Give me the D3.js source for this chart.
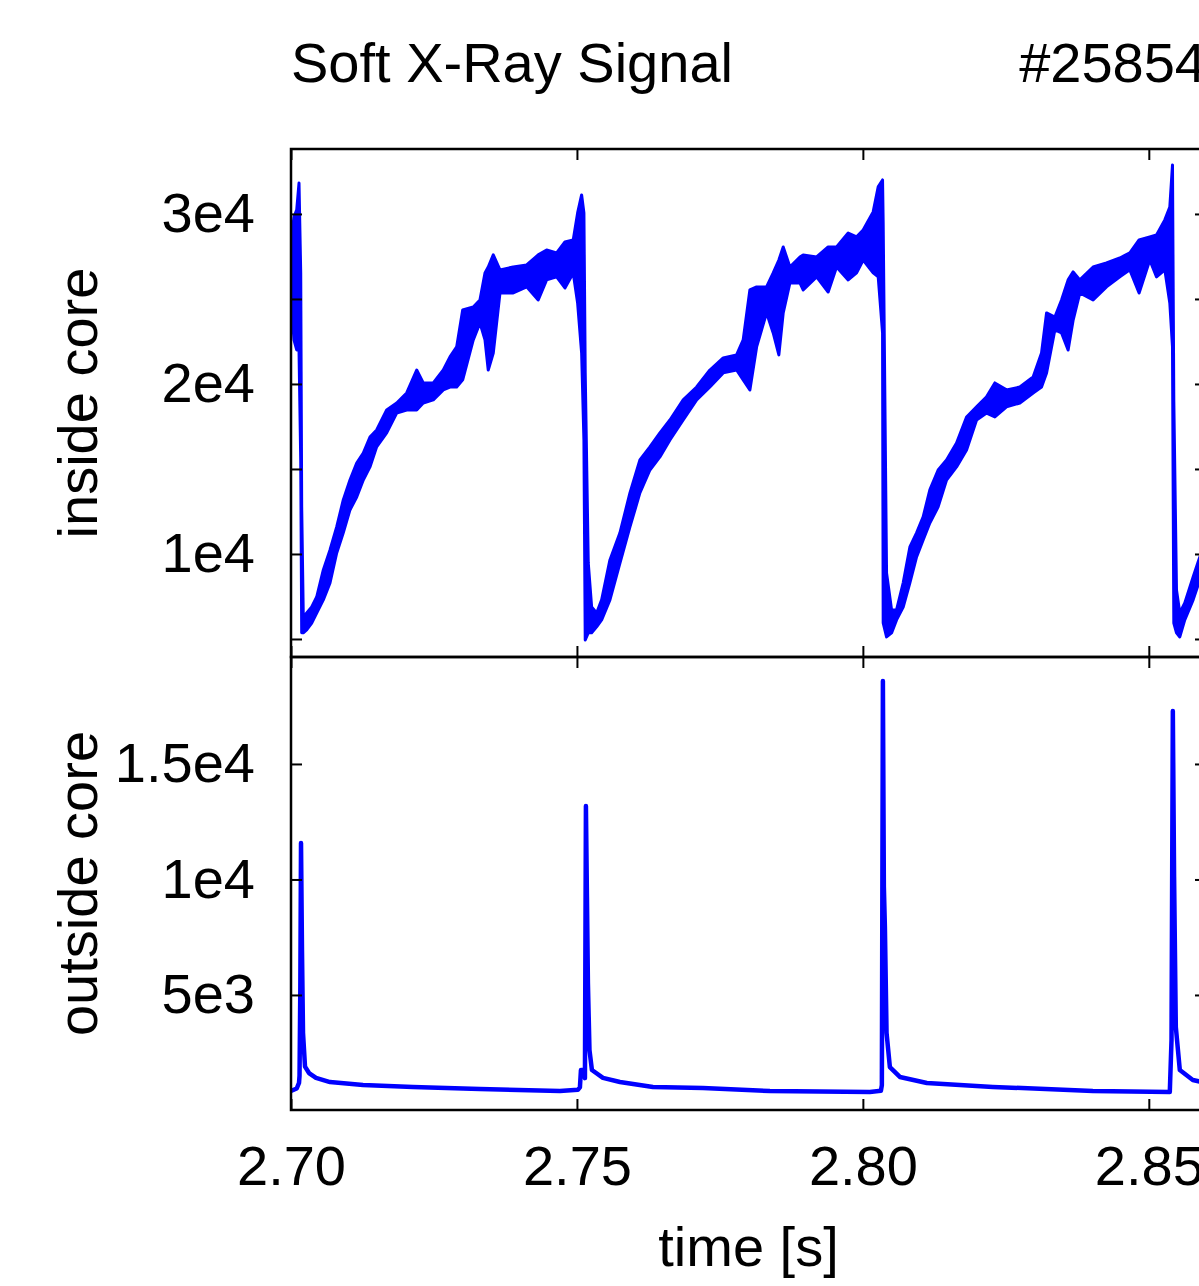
<!DOCTYPE html>
<html>
<head>
<meta charset="utf-8">
<title>Soft X-Ray Signal #25854</title>
<script src="https://cdn.jsdelivr.net/npm/d3@7"></script>
<style>
	body { margin: 0; background: #fff; }
	svg text { font-family: "Liberation Sans", Arial, Helvetica, sans-serif; font-size: 56px; fill: #000; }
</style>
</head>
<body>
<svg id="chart" width="1199" height="1286"></svg>
<script>
// tick values and labels
var timeTicks = [2.70, 2.75, 2.80, 2.85];
var timeLabels = ["2.70", "2.75", "2.80", "2.85"];
var insideTicks = [5000, 10000, 15000, 20000, 25000, 30000];
var insideLabels = ["", "1e4", "", "2e4", "", "3e4"];
var outsideTicks = [5000, 10000, 15000];
var outsideLabels = ["5e3", "1e4", "1.5e4"];

// inside core channel: time [s] with lower / upper edge of the noisy trace
var insideTime = [2.70000, 2.70052, 2.70100, 2.70140, 2.70170, 2.70187, 2.70215, 2.70274, 2.70362, 2.70449,
	2.70565, 2.70682, 2.70799, 2.70914, 2.71031, 2.71149, 2.71264, 2.71381, 2.71498, 2.71673,
	2.71848, 2.72023, 2.72198, 2.72313, 2.72488, 2.72663, 2.72780, 2.72897, 2.73002, 2.73187,
	2.73304, 2.73392, 2.73449, 2.73537, 2.73654, 2.73886, 2.74121, 2.74323, 2.74470, 2.74645,
	2.74790, 2.74935, 2.75012, 2.75082, 2.75122, 2.75145, 2.75198, 2.75257, 2.75344, 2.75432,
	2.75577, 2.75752, 2.75927, 2.76101, 2.76276, 2.76451, 2.76626, 2.76858, 2.77093, 2.77325,
	2.77558, 2.77792, 2.77907, 2.78024, 2.78142, 2.78316, 2.78432, 2.78531, 2.78607, 2.78724,
	2.78899, 2.78956, 2.79191, 2.79393, 2.79540, 2.79743, 2.79890, 2.80005, 2.80180, 2.80268,
	2.80344, 2.80355, 2.80414, 2.80502, 2.80589, 2.80705, 2.80822, 2.80939, 2.81054, 2.81171,
	2.81316, 2.81463, 2.81638, 2.81813, 2.81988, 2.82163, 2.82308, 2.82512, 2.82745, 2.82977,
	2.83124, 2.83212, 2.83357, 2.83474, 2.83589, 2.83677, 2.83794, 2.84026, 2.84260, 2.84493,
	2.84668, 2.84830, 2.85017, 2.85135, 2.85280, 2.85367, 2.85414, 2.85437, 2.85484, 2.85542,
	2.85629, 2.85775, 2.85874, 2.86000];
var insideHigh = [28290, 29820, 30240, 31820, 26530, 12770, 6300, 6530, 6880, 7470,
	9060, 10240, 11590, 13180, 14350, 15350, 15940, 16880, 17290, 18470,
	18880, 19470, 20820, 20060, 20060, 20820, 21590, 22180, 24350, 24530,
	24940, 26530, 26880, 27590, 26710, 26880, 27000, 27590, 27880, 27710,
	28350, 28470, 30060, 31120, 30060, 20650, 9470, 6880, 6530, 7300,
	9650, 11240, 13590, 15530, 16300, 17120, 17880, 19060, 19820, 20820,
	21530, 21710, 22590, 25530, 25710, 25710, 26530, 27290, 28060, 26880,
	27470, 27590, 27470, 28060, 28060, 28880, 28650, 29060, 30120, 31590,
	32000, 29470, 8880, 6710, 6710, 8300, 10410, 11240, 12180, 13770,
	14940, 15530, 16530, 18060, 18650, 19240, 20060, 19650, 19820, 20410,
	21820, 24180, 23940, 24940, 26120, 26590, 26120, 26880, 27120, 27410,
	27710, 28470, 28650, 28770, 29650, 30410, 32880, 19060, 7880, 6530,
	7120, 8650, 9650, 10820];
var insideLow = [25120, 22590, 22000, 22000, 15530, 5360, 5360, 5530, 5940, 6530,
	7300, 8300, 10060, 11240, 12590, 13350, 14350, 15120, 16300, 17120,
	18290, 18470, 18470, 18880, 19060, 19650, 19820, 19820, 20240, 22590,
	23590, 22590, 20820, 21820, 25350, 25350, 25710, 24940, 26120, 26300,
	25650, 26530, 24760, 21820, 16710, 4940, 5360, 5360, 5710, 6120,
	7300, 9470, 11590, 13590, 14940, 15710, 16710, 17880, 19060, 19820,
	20650, 20820, 20240, 19650, 22180, 24180, 23000, 21710, 24180, 25940,
	25940, 25530, 26300, 25410, 26880, 26120, 26530, 27290, 26530, 26300,
	23000, 5940, 5120, 5360, 6120, 6880, 8300, 9830, 10820, 11820,
	12770, 14350, 15120, 16120, 17880, 18290, 18060, 18650, 18880, 19470,
	19820, 20650, 23180, 23000, 22000, 23760, 25350, 24940, 25710, 26300,
	26710, 25350, 27290, 26300, 26710, 24760, 22180, 5940, 5360, 5120,
	6120, 7300, 8300, 9350];

// outside core channel
var outsideTime = [2.70000, 2.70100, 2.70140, 2.70149, 2.70163, 2.70175, 2.70192, 2.70210, 2.70245, 2.70315,
	2.70437, 2.70682, 2.71259, 2.72133, 2.73304, 2.74703, 2.75017, 2.75052, 2.75070, 2.75122,
	2.75140, 2.75157, 2.75175, 2.75192, 2.75219, 2.75262, 2.75455, 2.75752, 2.76329, 2.77203,
	2.78374, 2.80122, 2.80315, 2.80332, 2.80350, 2.80367, 2.80385, 2.80414, 2.80472, 2.80647,
	2.81119, 2.82273, 2.84021, 2.85367, 2.85397, 2.85420, 2.85442, 2.85472, 2.85542, 2.85769,
	2.86000];
var outsideValue = [850, 950, 1190, 1500, 5300, 11580, 6950, 3360, 1900, 1620,
	1410, 1230, 1100, 1020, 930, 840, 900, 1000, 1750, 1750,
	1400, 13180, 9240, 5520, 2620, 1750, 1410, 1230, 1020, 970,
	840, 800, 850, 1100, 18590, 9680, 7940, 3360, 1880, 1450,
	1190, 1020, 840, 800, 3050, 17290, 10110, 3620, 1750, 1320,
	1190];

var plotLeft = 291, plotRight = 1206;
var topPanel = { top: 149, bottom: 657 };
var bottomPanel = { top: 657, bottom: 1110 };
var traceColor = "#0000ff";

var svg = d3.select("#chart");

var x = d3.scaleLinear().domain([2.70, 2.86]).range([plotLeft, plotRight]);
var yIn = d3.scaleLinear().domain([3940, 33820]).range([topPanel.bottom, topPanel.top]);
var yOut = d3.scaleLinear().domain([20, 19630]).range([bottomPanel.bottom, bottomPanel.top]);

var defs = svg.append("defs");
function addClip(id, panel) {
	defs.append("clipPath").attr("id", id)
		.append("rect")
		.attr("x", plotLeft).attr("y", panel.top)
		.attr("width", plotRight - plotLeft).attr("height", panel.bottom - panel.top);
}
addClip("clipTop", topPanel);
addClip("clipBottom", bottomPanel);

// inside core trace, drawn as its noise envelope
var insideData = insideTime.map(function(t, i) {
	return { t: t, lo: insideLow[i], hi: insideHigh[i] };
});
var insideArea = d3.area()
	.x(function(d) { return x(d.t); })
	.y0(function(d) { return yIn(d.lo); })
	.y1(function(d) { return yIn(d.hi); });

svg.append("g").attr("clip-path", "url(#clipTop)")
	.append("path")
	.datum(insideData)
	.attr("d", insideArea)
	.attr("fill", traceColor)
	.attr("stroke", traceColor)
	.attr("stroke-width", 3)
	.attr("stroke-linejoin", "round");

// outside core trace
var outsideData = outsideTime.map(function(t, i) {
	return { t: t, v: outsideValue[i] };
});
var outsideLine = d3.line()
	.x(function(d) { return x(d.t); })
	.y(function(d) { return yOut(d.v); });

svg.append("g").attr("clip-path", "url(#clipBottom)")
	.append("path")
	.datum(outsideData)
	.attr("d", outsideLine)
	.attr("fill", "none")
	.attr("stroke", traceColor)
	.attr("stroke-width", 4.5)
	.attr("stroke-linejoin", "round");

function labelFor(ticks, labels) {
	return function(d) { return labels[ticks.indexOf(d)]; };
}

function styleAxis(g) {
	g.select(".domain").remove();
	g.selectAll(".tick line").attr("stroke", "#000").attr("stroke-width", 2);
	g.selectAll(".tick text").attr("font-size", null).attr("font-family", null).attr("fill", "#000");
}

// x ticks on both panels, all borders, pointing inward
function drawTimeTicks(yPos, dir, withLabels) {
	var axis = (dir === "bottom" ? d3.axisBottom(x) : d3.axisTop(x))
		.tickValues(timeTicks)
		.tickSizeInner(-11)
		.tickSizeOuter(0)
		.tickPadding(35)
		.tickFormat(withLabels ? labelFor(timeTicks, timeLabels) : function() { return ""; });
	svg.append("g").attr("transform", "translate(0," + yPos + ")").call(axis).call(styleAxis);
}
drawTimeTicks(topPanel.top, "top", false);
drawTimeTicks(topPanel.bottom, "bottom", false);
drawTimeTicks(bottomPanel.top, "top", false);
drawTimeTicks(bottomPanel.bottom, "bottom", true);

function drawValueTicks(scale, ticks, labels) {
	var left = d3.axisLeft(scale).tickValues(ticks).tickSizeInner(-11).tickSizeOuter(0)
		.tickPadding(36).tickFormat(labelFor(ticks, labels));
	svg.append("g").attr("transform", "translate(" + plotLeft + ",0)").call(left).call(styleAxis);
	var right = d3.axisRight(scale).tickValues(ticks).tickSizeInner(-11).tickSizeOuter(0)
		.tickFormat(function() { return ""; });
	svg.append("g").attr("transform", "translate(" + plotRight + ",0)").call(right).call(styleAxis);
}
drawValueTicks(yIn, insideTicks, insideLabels);
drawValueTicks(yOut, outsideTicks, outsideLabels);

// frames
[topPanel, bottomPanel].forEach(function(p) {
	svg.append("rect")
		.attr("x", plotLeft).attr("y", p.top)
		.attr("width", plotRight - plotLeft).attr("height", p.bottom - p.top)
		.attr("fill", "none").attr("stroke", "#000").attr("stroke-width", 2.5);
});

// titles and axis labels
svg.append("text").attr("x", plotLeft).attr("y", 82).text("Soft X-Ray Signal");
svg.append("text").attr("x", plotRight).attr("y", 82).attr("text-anchor", "end").text("#25854");

svg.append("text")
	.attr("transform", "translate(97," + (topPanel.top + topPanel.bottom) / 2 + ") rotate(-90)")
	.attr("text-anchor", "middle")
	.text("inside core");
svg.append("text")
	.attr("transform", "translate(97," + (bottomPanel.top + bottomPanel.bottom) / 2 + ") rotate(-90)")
	.attr("text-anchor", "middle")
	.text("outside core");

svg.append("text")
	.attr("x", (plotLeft + plotRight) / 2).attr("y", 1266)
	.attr("text-anchor", "middle")
	.text("time [s]");
</script>
</body>
</html>
